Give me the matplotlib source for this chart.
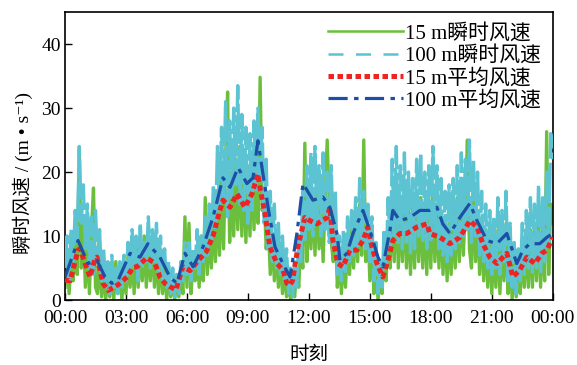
import numpy as np
import matplotlib
matplotlib.use("Agg")
import matplotlib.pyplot as plt
from matplotlib.lines import Line2D

# ---------------- data ----------------
# instantaneous 100 m wind speed, 10 samples per hour (6-min), 00:00 .. 24:00
inst100 = [
    5, 10, 3, 11, 6, 14, 9, 24, 12, 18,
    8, 15, 5, 13, 4, 14, 6, 11, 3, 8,
    2, 6, 1, 7, 2, 5, 1, 6, 2, 7,
    3, 9, 4, 11, 5, 10, 3, 12, 5, 9,
    6, 13, 5, 11, 6, 12, 4, 10, 3, 8,
    2, 6, 1, 5, 0.5, 4, 1, 6, 3, 9,
    4, 9, 3, 8, 5, 11, 4, 10, 6, 13,
    7, 15, 9, 18, 11, 24, 14, 27, 16, 31,
    13, 28, 16, 30, 18, 33.5, 15, 29, 14, 27,
    12, 26, 14, 28, 17, 30, 19, 27, 12, 22,
    8, 17, 6, 15, 5, 12, 4, 10, 3, 8,
    1, 5, 0.5, 6, 2, 10, 6, 17, 9, 21,
    11, 23, 10, 24, 12, 21, 10, 23, 11, 20,
    9, 21, 8, 17, 4, 10, 3, 11, 4, 13,
    6, 14, 7, 16, 8, 19, 9, 17, 8, 15,
    6, 13, 3, 9, 1, 6, 2, 11, 5, 16,
    8, 22, 10, 24, 9, 21, 8, 23, 9, 20,
    7, 19, 8, 22, 10, 23, 9, 20, 8, 21,
    9, 24, 10, 21, 8, 19, 7, 17, 6, 18,
    7, 19, 8, 21, 9, 23, 10, 22, 11, 25,
    9, 22, 10, 20, 7, 17, 6, 15, 5, 14,
    4, 13, 5, 16, 4, 14, 6, 17, 3, 12,
    2, 9, 1, 8, 3, 12, 4, 14, 5, 16,
    4, 15, 5, 18, 4, 16, 6, 20, 8, 26,
    22,
]

# instantaneous 15 m wind speed, same sampling
inst15 = [
    2, 7, 1, 6, 3, 10, 4, 23.5, 5, 12,
    2, 9, 1, 11, 17.5, 2, 1, 7, 0.5, 5,
    0, 4, 0.5, 5, 0, 6, 1, 4, 0, 5,
    1, 7, 2, 8, 1, 9, 2, 8, 3, 10,
    2, 9, 3, 10, 2, 8, 1, 7, 1, 6,
    0, 4, 0.5, 3, 0, 4, 0.5, 5, 1, 13,
    2, 12, 1, 6, 3, 8, 2, 10, 3, 16,
    4, 12, 5, 14, 6, 16, 7, 19, 8, 22,
    32.5, 9, 20, 10, 22, 11, 24, 10, 21, 9,
    20, 10, 22, 11, 24, 12, 34.8, 14, 16, 8,
    12, 4, 10, 3, 9, 2, 7, 1, 5, 0.5,
    3, 0, 2, 0.5, 5, 2, 9, 5, 24.5, 6,
    16, 8, 17, 7, 17, 8, 15, 6, 16, 25,
    15, 9, 6, 12, 2, 7, 1, 8, 2, 9,
    4, 11, 5, 13, 6, 15, 7, 25, 6, 12,
    3, 9, 1, 6, 0, 4, 1, 8, 3, 12,
    5, 16, 6, 18, 5, 15, 6, 17, 5, 14,
    4, 15, 5, 17, 6, 16, 5, 14, 4, 16,
    5, 17, 6, 15, 5, 14, 4, 13, 3, 12,
    4, 14, 5, 16, 6, 17, 7, 15, 25, 8,
    5, 16, 6, 14, 4, 12, 3, 11, 2, 10,
    1, 9, 2, 11, 1, 10, 3, 12, 1, 8,
    0, 6, 0.5, 5, 1, 8, 2, 10, 2, 11,
    2, 12, 3, 13, 2, 11, 3, 26.3, 4, 15,
    12,
]
inst_hours = np.linspace(0, 24, len(inst15))

# 15 m mean wind speed (hours, value)
mean15_t = [0, 0.25, 0.64, 0.74, 0.98, 1.23, 1.48, 1.57, 1.87, 2.12, 2.46, 2.7,
            3.05, 3.34, 3.54, 4.03, 4.43, 4.67, 4.92, 5.16, 5.46, 5.8, 6.15,
            6.64, 6.94, 7.28, 7.62, 7.77, 8.12, 8.46, 8.85, 9.2, 9.49, 9.59,
            9.84, 10.08, 10.43, 10.72, 10.92, 11.07, 11.2, 11.46, 11.8, 12.05,
            12.4, 12.9, 13.03, 13.18, 13.43, 13.67, 14.02, 14.36, 14.66, 14.9,
            15.1, 15.35, 15.64, 15.89, 16.13, 16.48, 16.82, 17.31, 17.81, 17.95,
            18.45, 18.94, 19.43, 19.92, 20.27, 20.56, 20.9, 21.25, 21.74, 22.04,
            22.38, 22.72, 23.12, 23.46, 23.71, 24]
mean15_v = [3.1, 3.0, 7.8, 8.0, 5.8, 3.6, 6.5, 6.7, 2.6, 1.5, 2.1, 2.6,
            3.6, 5.1, 5.2, 6.6, 5.7, 3.6, 2.6, 2.1, 1.6, 5.2, 4.6,
            6.5, 7.5, 10.0, 14.0, 15.6, 14.5, 16.6, 14.5, 16.6, 19.7, 17.6,
            13.5, 8.3, 5.7, 4.7, 2.6, 2.3, 3.1, 8.3, 12.9, 12.4,
            11.9, 12.9, 14.5, 9.3, 5.7, 5.2, 7.8, 7.8, 9.3, 11.4,
            8.3, 5.7, 3.6, 6.2, 9.3, 10.4, 10.4, 11.4, 11.9, 10.4,
            9.8, 8.8, 9.8, 12.4, 11.4, 8.8, 6.7, 5.7, 7.3, 3.6,
            4.7, 6.7, 5.7, 7.3, 7.8, 9.8]

# 100 m mean wind speed (hours, value)
mean100_t = [0, 0.64, 1.13, 1.57, 1.97, 2.31, 2.61, 3.2, 3.69, 4.08, 4.67, 5.16,
             5.51, 5.9, 6.3, 6.79, 7.28, 7.77, 8.12, 8.51, 8.95, 9.25, 9.49,
             9.74, 9.99, 10.33, 10.72, 11.07, 11.41, 11.71, 12.2, 12.69, 13.03,
             13.38, 13.53, 13.87, 14.17, 14.66, 15.0, 15.4, 15.64, 15.99, 16.13,
             16.48, 16.97, 17.46, 17.95, 18.3, 18.59, 18.94, 19.43, 19.92, 20.27,
             20.76, 21.25, 21.74, 22.23, 22.53, 22.87, 23.36, 23.71, 24]
mean100_v = [3.6, 9.3, 5.7, 6.2, 3.6, 2.6, 3.1, 7.3, 6.7, 8.8, 6.7, 3.6,
             2.6, 7.3, 5.2, 8.3, 12.9, 19.1, 17.6, 20.7, 18.2, 19.1, 24.9,
             19.7, 14.5, 8.3, 5.7, 3.6, 10.4, 18.2, 15.6, 16.1, 14.5,
             10.4, 6.2, 7.3, 10.4, 14.0, 10.9, 6.7, 5.2, 10.9, 14.0,
             12.4, 12.9, 14.0, 14.0, 14.5, 11.9, 10.4, 12.9, 15.1, 12.4,
             9.3, 8.8, 10.4, 5.7, 7.8, 8.8, 8.8, 9.8, 10.4]

xticks_h = [0, 3, 6, 9, 12, 15, 18, 21, 24]
xtick_labels = ["00:00", "03:00", "06:00", "09:00", "12:00", "15:00", "18:00", "21:00", "00:00"]
yticks = [0, 10, 20, 30, 40]

series_labels = ["15 m瞬时风速", "100 m瞬时风速", "15 m平均风速", "100 m平均风速"]

# ---------------- style ----------------
FAM = ["Liberation Serif", "Noto Sans CJK SC", "DejaVu Sans"]
plt.rcParams["font.family"] = FAM
plt.rcParams["axes.unicode_minus"] = False

fig = plt.figure(figsize=(5.77, 3.65), dpi=100)
ax = fig.add_axes([0.1127, 0.178, 0.958 - 0.1127, 0.967 - 0.178])

c_green = "#6cbf3c"
c_cyan = "#5cc3d3"
c_red = "#ee2424"
c_blue = "#1d4fa6"

ax.plot(inst_hours, inst15, color=c_green, lw=2.4, label=series_labels[0], zorder=2)
ax.plot(inst_hours, inst100, color=c_cyan, lw=2.4, linestyle=(0, (12, 1.2)),
        label=series_labels[1], zorder=3)
ax.plot(mean15_t, mean15_v, color=c_red, lw=3.6, linestyle=(0, (1.1, 0.7)),
        label=series_labels[2], zorder=4)
ax.plot(mean100_t, mean100_v, color=c_blue, lw=2.3, linestyle=(0, (6, 2.0, 1.4, 2.0)),
        label=series_labels[3], zorder=5)

ax.set_xlim(0, 24)
ax.set_ylim(0, 45)
ax.set_xticks(xticks_h)
ax.set_xticklabels(xtick_labels)
ax.set_yticks(yticks)
ax.tick_params(direction="in", length=5, width=1, labelsize=14, top=False, right=False)
ax.tick_params(axis="x", pad=7)
ax.tick_params(axis="y", pad=3)
for s in ax.spines.values():
    s.set_linewidth(1.2)

ax.set_xlabel("时刻", fontsize=14, labelpad=14)
ax.set_ylabel("瞬时风速 / (m • s⁻¹)", fontsize=14)
ax.yaxis.set_label_coords(-0.066, 0.44)

h = [
    Line2D([], [], color=c_green, lw=1.8),
    Line2D([], [], color=c_cyan, lw=1.8, linestyle=(0, (6, 5))),
    Line2D([], [], color=c_red, lw=3.6, linestyle=(0, (1.1, 0.7))),
    Line2D([], [], color=c_blue, lw=2.3, linestyle=(0, (6, 2.0, 1.4, 2.0))),
]
leg = ax.legend(h, series_labels, loc="upper right", frameon=False, fontsize=15,
                handlelength=3.6, handletextpad=0.1, labelspacing=0.12,
                borderaxespad=0.15, borderpad=0.4, bbox_to_anchor=(1.0, 1.0))

fig.savefig("out.png", dpi=100)
